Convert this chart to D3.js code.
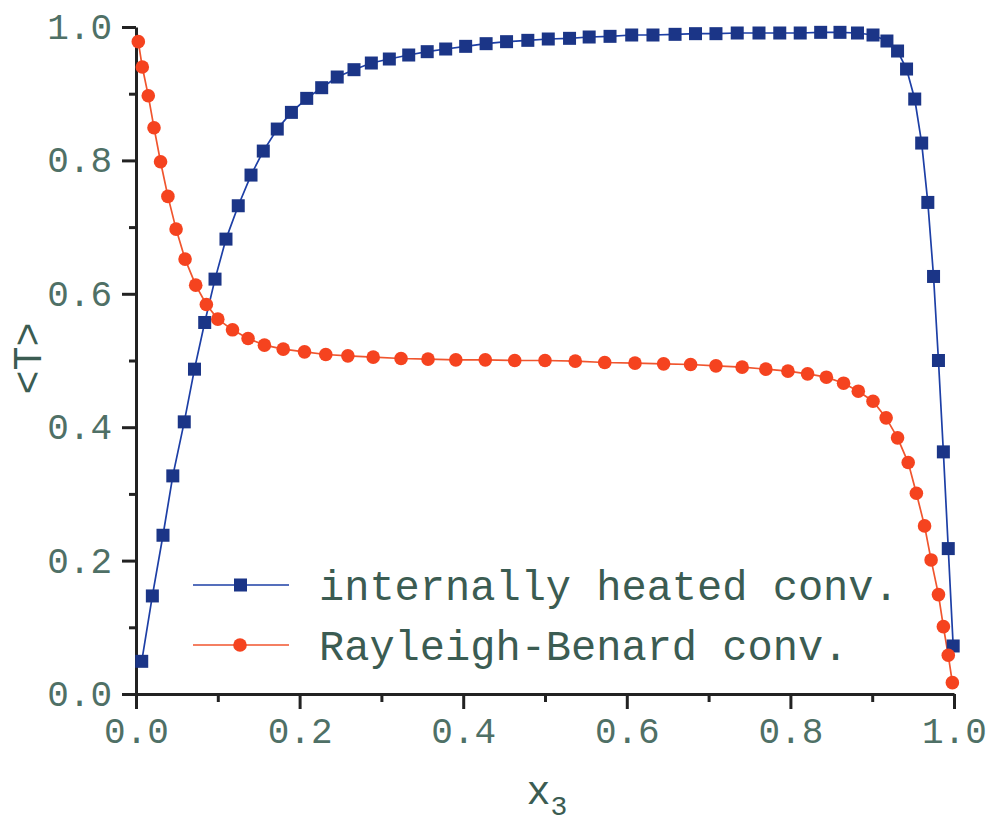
<!DOCTYPE html>
<html>
<head>
<meta charset="utf-8">
<script src="https://cdn.jsdelivr.net/npm/d3@7"></script>
<style>
  body { margin: 0; background: #fff; }
  .axis path, .axis line { stroke: #222; stroke-width: 3; }
  .axis text { font-family: "Courier New", "Liberation Mono", monospace; font-size: 36px; fill: #4f7066; }
  .label { font-family: "Courier New", "Liberation Mono", monospace; fill: #3b5c52; }
</style>
</head>
<body>
<script>
// internally heated convection (blue squares)
var ihX = [0.007, 0.020, 0.033, 0.045, 0.059, 0.0715, 0.084, 0.0966, 0.110, 0.125,
           0.1406, 0.1556, 0.1727, 0.190, 0.2087, 0.227, 0.246, 0.2665, 0.2877, 0.3097,
           0.3334, 0.356, 0.3786, 0.403, 0.428, 0.453, 0.479, 0.504, 0.530, 0.554,
           0.5795, 0.606, 0.632, 0.659, 0.684, 0.709, 0.735, 0.7616, 0.787, 0.812,
           0.837, 0.8606, 0.882, 0.901, 0.918, 0.931, 0.942, 0.952, 0.9605, 0.968,
           0.975, 0.981, 0.987, 0.993, 0.999];
var ihT = [0.049, 0.147, 0.238, 0.327, 0.408, 0.487, 0.557, 0.622, 0.682, 0.732,
           0.778, 0.814, 0.847, 0.872, 0.893, 0.909, 0.925, 0.936, 0.946, 0.952,
           0.958, 0.963, 0.967, 0.971, 0.975, 0.978, 0.980, 0.982, 0.983, 0.985,
           0.986, 0.988, 0.988, 0.989, 0.990, 0.990, 0.991, 0.991, 0.991, 0.991,
           0.992, 0.992, 0.991, 0.988, 0.979, 0.964, 0.937, 0.892, 0.826, 0.737,
           0.626, 0.500, 0.363, 0.218, 0.072];

// Rayleigh-Benard convection (red circles)
var rbX = [0.0028, 0.0077, 0.015, 0.022, 0.030, 0.039, 0.049, 0.060, 0.073, 0.086,
           0.100, 0.118, 0.137, 0.157, 0.180, 0.206, 0.232, 0.259, 0.290, 0.324,
           0.357, 0.391, 0.427, 0.463, 0.500, 0.537, 0.573, 0.610, 0.645, 0.678,
           0.709, 0.741, 0.770, 0.797, 0.821, 0.844, 0.865, 0.883, 0.901, 0.917,
           0.931, 0.944, 0.954, 0.964, 0.972, 0.981, 0.987, 0.993, 0.998];
var rbT = [0.978, 0.940, 0.897, 0.849, 0.798, 0.746, 0.697, 0.652, 0.613, 0.584,
           0.562, 0.546, 0.533, 0.523, 0.517, 0.513, 0.509, 0.507, 0.505, 0.503,
           0.502, 0.501, 0.501, 0.500, 0.500, 0.499, 0.497, 0.496, 0.495, 0.494,
           0.492, 0.490, 0.487, 0.484, 0.480, 0.475, 0.466, 0.454, 0.439, 0.414,
           0.384, 0.347, 0.301, 0.252, 0.201, 0.149, 0.101, 0.058, 0.017];

var majorTicks = [0, 0.2, 0.4, 0.6, 0.8, 1.0];
var minorTicks = [0.1, 0.3, 0.5, 0.7, 0.9];
var legendNames = ["internally heated conv.", "Rayleigh-Benard conv."];

var blueLine = "#1d3fa6", blueMark = "#1b3587";
var redLine = "#f0552e", redMark = "#f5431f";

var margin = {top: 27, right: 36, bottom: 129, left: 136},
    width = 990 - margin.left - margin.right,
    height = 823 - margin.top - margin.bottom;

var x = d3.scaleLinear().domain([0, 1]).range([0, width]);
var y = d3.scaleLinear().domain([0, 1]).range([height, 0]);

var svg = d3.select("body").append("svg")
    .attr("width", 990)
    .attr("height", 823)
  .append("g")
    .attr("transform", "translate(" + margin.left + "," + margin.top + ")");

var ih = ihX.map(function(d, i) { return {x: d, t: ihT[i]}; });
var rb = rbX.map(function(d, i) { return {x: d, t: rbT[i]}; });

// minor ticks first, under the axes
svg.append("g")
    .attr("class", "axis")
    .attr("transform", "translate(0," + height + ")")
    .call(d3.axisBottom(x).tickValues(minorTicks).tickSize(8).tickFormat(""))
    .select(".domain").remove();
svg.append("g")
    .attr("class", "axis")
    .call(d3.axisLeft(y).tickValues(minorTicks).tickSize(7).tickFormat(""))
    .select(".domain").remove();

svg.append("g")
    .attr("class", "axis")
    .attr("transform", "translate(0," + height + ")")
    .call(d3.axisBottom(x).tickValues(majorTicks).tickSize(15).tickSizeOuter(0)
      .tickPadding(8).tickFormat(d3.format(".1f")));

svg.append("g")
    .attr("class", "axis")
    .call(d3.axisLeft(y).tickValues(majorTicks).tickSize(14).tickSizeOuter(0)
      .tickPadding(10).tickFormat(d3.format(".1f")));

var line = d3.line()
    .x(function(d) { return x(d.x); })
    .y(function(d) { return y(d.t); });

svg.append("path")
    .datum(ih)
    .attr("fill", "none")
    .attr("stroke", blueLine)
    .attr("stroke-width", 1.7)
    .attr("d", line);

svg.append("path")
    .datum(rb)
    .attr("fill", "none")
    .attr("stroke", redLine)
    .attr("stroke-width", 1.7)
    .attr("d", line);

svg.selectAll(".sq")
    .data(ih)
  .enter().append("rect")
    .attr("class", "sq")
    .attr("x", function(d) { return x(d.x) - 6.5; })
    .attr("y", function(d) { return y(d.t) - 6.5; })
    .attr("width", 13)
    .attr("height", 13)
    .style("fill", blueMark);

svg.selectAll(".dot")
    .data(rb)
  .enter().append("circle")
    .attr("class", "dot")
    .attr("r", 6.8)
    .attr("cx", function(d) { return x(d.x); })
    .attr("cy", function(d) { return y(d.t); })
    .style("fill", redMark);

// legend
var legend = svg.selectAll(".legend")
    .data(legendNames)
  .enter().append("g")
    .attr("class", "legend")
    .attr("transform", function(d, i) { return "translate(57," + (558 + i * 60) + ")"; });

legend.append("line")
    .attr("x1", 0)
    .attr("x2", 96)
    .attr("stroke", function(d, i) { return i == 0 ? blueLine : redLine; })
    .attr("stroke-width", 1.7);

legend.filter(function(d, i) { return i == 0; }).append("rect")
    .attr("x", 41).attr("y", -6.5).attr("width", 13).attr("height", 13)
    .style("fill", blueMark);

legend.filter(function(d, i) { return i == 1; }).append("circle")
    .attr("cx", 47).attr("r", 6.8)
    .style("fill", redMark);

legend.append("text")
    .attr("class", "label")
    .attr("x", 126)
    .attr("dy", "0.35em")
    .style("font-size", "42px")
    .text(function(d) { return d; });

// axis titles
svg.append("text")
    .attr("class", "label")
    .attr("transform", "translate(-109," + (height / 2 - 2) + ") rotate(-90)")
    .attr("dy", "0.35em")
    .style("text-anchor", "middle")
    .style("font-size", "40px")
    .text("<T>");

var xt = svg.append("text")
    .attr("class", "label")
    .attr("x", x(0.5) + 2)
    .attr("y", height + 110)
    .style("text-anchor", "middle")
    .style("font-size", "40px");
xt.append("tspan").text("x");
xt.append("tspan").attr("dy", 11).style("font-size", "28px").text("3");
</script>
</body>
</html>
